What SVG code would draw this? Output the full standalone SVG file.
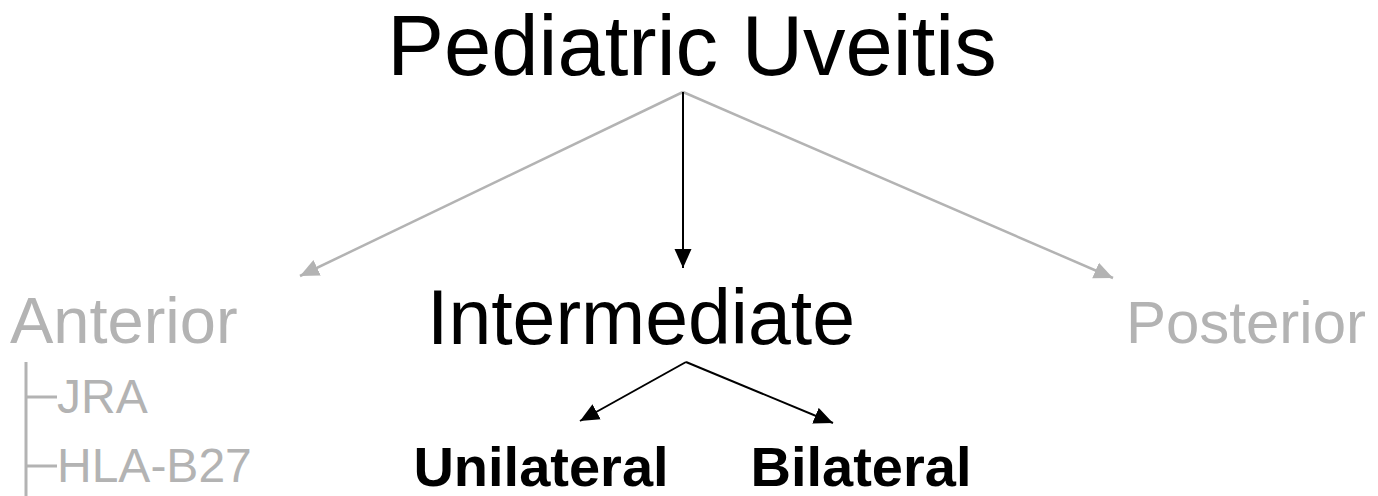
<svg xmlns="http://www.w3.org/2000/svg" width="1378" height="496" viewBox="0 0 1378 496">
  <style>
    text { font-family: "Liberation Sans", Arial, sans-serif; }
    .title { font-size: 85px; fill: #000; }
    .dim { fill: #b3b3b3; }
    .sub { font-size: 48px; fill: #b3b3b3; }
    .bold { font-size: 56px; font-weight: bold; fill: #000; }
    .edge-k { stroke: #000; stroke-width: 2; fill: none; }
    .edge-g { stroke: #b3b3b3; stroke-width: 2.5; fill: none; }
    .tree { stroke: #b3b3b3; stroke-width: 3; fill: none; }
  </style>
  <defs>
    <marker id="ah-k" markerUnits="userSpaceOnUse" markerWidth="20" markerHeight="18" refX="19" refY="9" orient="auto">
      <path d="M0,0.5 L19,9 L0,17.5 Z" fill="#000"/>
    </marker>
    <marker id="ah-g" markerUnits="userSpaceOnUse" markerWidth="20" markerHeight="18" refX="19" refY="9" orient="auto">
      <path d="M0,0.5 L19,9 L0,17.5 Z" fill="#b3b3b3"/>
    </marker>
  </defs>
  <rect width="1378" height="496" fill="#fff"/>

  <g id="connectors">
    <line class="edge-g" x1="683" y1="92" x2="300" y2="276" marker-end="url(#ah-g)"/>
    <line class="edge-g" x1="683" y1="92" x2="1113" y2="278" marker-end="url(#ah-g)"/>
    <line class="edge-k" x1="683" y1="92" x2="683" y2="268" marker-end="url(#ah-k)"/>
    <line class="edge-k" x1="686" y1="362" x2="580" y2="421" marker-end="url(#ah-k)"/>
    <line class="edge-k" x1="686" y1="362" x2="833" y2="423" marker-end="url(#ah-k)"/>
  </g>

  <g id="node-root">
    <text class="title" x="692" y="75" text-anchor="middle">Pediatric Uveitis</text>
  </g>

  <g id="node-anterior">
    <text class="dim" x="10" y="343" font-size="65">Anterior</text>
    <path class="tree" d="M26,362 V496 M26,397 H57 M26,466 H57"/>
    <text class="sub" x="57" y="413">JRA</text>
    <text class="sub" x="57" y="482">HLA-B27</text>
  </g>

  <g id="node-intermediate">
    <text x="641" y="344" font-size="77" text-anchor="middle">Intermediate</text>
  </g>

  <g id="node-posterior">
    <text class="dim" x="1366" y="343" font-size="60" text-anchor="end">Posterior</text>
  </g>

  <g id="node-unilateral">
    <text class="bold" x="541" y="486" text-anchor="middle">Unilateral</text>
  </g>

  <g id="node-bilateral">
    <text class="bold" x="861" y="486" text-anchor="middle">Bilateral</text>
  </g>
</svg>
